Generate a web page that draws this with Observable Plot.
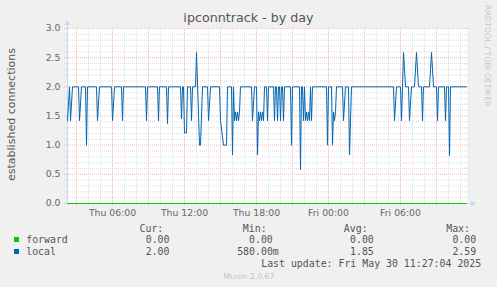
<!DOCTYPE html>
<html><head><meta charset="utf-8">
<script src="https://cdn.jsdelivr.net/npm/d3@7"></script>
<script src="https://cdn.jsdelivr.net/npm/@observablehq/plot@0.6"></script>
<style>
html,body{margin:0;padding:0;background:#f0f0f0;}
#chart{position:relative;width:497px;height:287px;overflow:hidden;}
svg{display:block;}
</style></head><body><div id="chart"></div>
<script>
// ---- texts ----
const title = "ipconntrack - by day";
const yLabel = "established connections";
const sideText = "RRDTOOL / TOBI OETIKER";
const footer = "Munin 2.0.67";
const lastUpdate = "Last update: Fri May 30 11:27:04 2025";

// ---- axes ----
const xDomain = ["29 02:15", "30 11:35"];
const xLabelTicks = ["29 06:00", "29 12:00", "29 18:00", "30 00:00", "30 06:00"];
const yTicks = [0, 0.5, 1, 1.5, 2, 2.5, 3];

// ---- legend ----
const seriesNames = ["forward", "local"];
const seriesColors = ["#00cc00", "#0066b3"];
const statHeaders = ["Cur:", "Min:", "Avg:", "Max:"];
const curVals = ["0.00", "2.00"];
const minVals = ["0.00", "580.00m"];
const avgVals = ["0.00", "1.85"];
const maxVals = ["0.00", "2.59"];

// ---- data ----
const forwardTimes = ["29 02:15", "30 11:30"];
const forwardValues = [0, 0];

const localTimes = [
"29 02:15","29 02:25","29 02:30","29 02:40","29 03:10","29 03:15","29 03:25","29 03:45","29 03:50","29 03:55",
"29 04:40","29 04:45","29 04:55","29 05:55","29 06:00","29 06:10","29 06:45","29 06:50","29 06:55","29 08:45",
"29 08:50","29 08:55","29 09:45","29 09:50","29 09:55","29 10:30","29 10:35","29 10:40","29 11:40","29 11:45",
"29 11:50","29 11:55","29 12:00","29 12:10","29 12:15","29 12:30","29 12:35","29 12:40","29 12:55","29 13:00",
"29 13:15","29 13:20","29 13:30","29 13:55","29 14:00","29 14:10","29 14:55","29 15:00","29 15:15","29 15:30",
"29 15:35","29 15:55","29 16:00","29 16:05","29 16:10","29 16:15","29 16:20","29 16:25","29 16:30","29 16:35",
"29 16:40","29 17:35","29 17:40","29 17:50","29 18:00","29 18:05","29 18:10","29 18:15","29 18:20","29 18:25",
"29 18:30","29 18:35","29 18:40","29 18:50","29 18:55","29 19:00","29 19:25","29 19:30","29 19:35","29 19:40",
"29 19:45","29 19:50","29 19:55","29 20:00","29 20:05","29 20:10","29 20:15","29 20:20","29 20:50","29 20:55",
"29 21:00","29 21:35","29 21:40","29 21:45","29 21:50","29 21:55","29 22:00","29 22:05","29 22:10","29 22:15",
"29 22:20","29 22:25","29 22:30","29 22:35","29 22:40","29 23:50","29 23:55","30 00:00","30 00:15","30 00:20",
"30 00:25","30 00:30","30 00:35","30 00:40","30 01:10","30 01:15","30 01:25","30 01:40","30 01:45","30 01:55",
"30 05:25","30 05:30","30 05:40","30 06:00","30 06:05","30 06:15","30 06:25","30 06:40","30 06:45","30 06:55",
"30 07:10","30 07:20","30 07:30","30 07:45","30 07:50","30 07:55","30 08:25","30 08:35","30 08:45","30 09:00",
"30 09:05","30 09:10","30 09:40","30 09:45","30 09:50","30 10:00","30 10:05","30 10:10","30 11:30"
];
const localValues = [
1.42,2.0,1.42,2.0,2.0,1.42,2.0,2.0,1.0,2.0,
2.0,1.42,2.0,2.0,1.42,2.0,2.0,1.42,2.0,2.0,
1.42,2.0,2.0,1.42,2.0,2.0,1.37,2.0,2.0,1.45,
2.0,2.0,1.21,1.21,2.0,2.0,1.42,2.0,2.0,2.59,
1.0,1.0,2.0,2.0,1.42,2.0,2.0,1.42,1.0,1.0,
2.0,2.0,0.83,2.0,1.42,1.57,1.42,1.57,1.42,1.57,
2.0,2.0,1.42,2.0,2.0,0.83,1.57,1.42,1.57,1.42,
1.57,1.42,2.0,2.0,1.42,2.0,2.0,1.42,2.0,2.0,
1.42,2.0,2.0,1.42,2.0,2.0,1.42,2.0,2.0,1.0,
2.0,2.0,0.58,2.0,2.0,1.42,2.0,1.42,1.57,1.42,
1.57,1.42,2.0,1.42,2.0,2.0,1.0,2.0,2.0,1.0,
1.57,1.42,1.57,2.0,2.0,1.42,2.0,2.0,0.83,2.0,
2.0,1.42,2.0,2.0,1.42,2.59,2.0,2.0,1.42,2.0,
2.0,2.59,2.0,2.0,1.42,2.0,2.0,2.59,2.0,2.0,
1.42,2.0,2.0,1.42,2.0,2.0,0.82,2.0,2.0
];

// ---- build ----
const parse = s => d3.timeParse("%Y-%m-%d %H:%M")("2025-05-" + s);
const xDom = xDomain.map(parse);
const localData = localTimes.map((t, i) => ({t: parse(t), v: localValues[i]}));
const forwardData = forwardTimes.map((t, i) => ({t: parse(t), v: forwardValues[i]}));
const xLabelDates = xLabelTicks.map(parse);
const hourTicks = d3.timeHour.range(xDom[0], xDom[1]);
const majorX = hourTicks.filter(d => d.getHours() % 3 === 0);
const minorX = hourTicks.filter(d => d.getHours() % 3 !== 0);
const minorY = d3.range(1, 30).map(i => i / 10).filter(v => Math.abs(v * 2 - Math.round(v * 2)) > 1e-9);

const gridGray = "#dedede", gridRed = "#f6b4b4", axisCol = "#cfd6f8";

const plot = Plot.plot({
  width: 497, height: 287,
  marginLeft: 67, marginRight: 30, marginTop: 28, marginBottom: 84,
  style: {background: "transparent", color: "#666", fontFamily: "DejaVu Sans", fontSize: "9.3px"},
  x: {type: "time", domain: xDom},
  y: {domain: [0, 3]},
  marks: [
    Plot.frame({fill: "#ffffff", stroke: "none"}),
    Plot.ruleX(minorX, {stroke: gridGray, strokeDasharray: "1,1", insetBottom: -3}),
    Plot.ruleY(minorY, {stroke: gridGray, strokeDasharray: "1,1", insetLeft: -3, insetRight: -3}),
    Plot.ruleX(majorX, {stroke: gridRed, strokeDasharray: "1,1", insetBottom: -3}),
    Plot.ruleY(yTicks.slice(1), {stroke: gridRed, strokeDasharray: "1,1", insetLeft: -3, insetRight: -3}),
    Plot.ruleX([xDom[0]], {stroke: axisCol, insetTop: -4}),
    Plot.ruleY([0], {stroke: axisCol, insetLeft: -3, insetRight: -5}),
    Plot.lineY(forwardData, {x: "t", y: "v", stroke: seriesColors[0], strokeWidth: 1}),
    Plot.lineY(localData, {x: "t", y: "v", stroke: seriesColors[1], strokeWidth: 1, strokeLinejoin: "miter"}),
    Plot.axisX(xLabelDates, {tickSize: 0, tickPadding: 6, tickFormat: d3.timeFormat("%a %H:%M"), label: null}),
    Plot.axisY(yTicks, {tickSize: 0, tickPadding: 7, tickFormat: d3.format(".1f"), label: null})
  ]
});

const svg = d3.select(plot);
const xs = plot.scale("x"), ys = plot.scale("y");
const x0 = Math.round(xs.apply(xDom[0])) + 0.5;
const y0 = Math.round(ys.apply(0)) + 0.5;
const yTop = Math.round(ys.apply(3));
const xEnd = Math.round(xs.apply(xDom[1]));
// arrows
svg.append("path").attr("d", `M${x0 - 3},${yTop - 3} L${x0 + 3},${yTop - 3} L${x0},${yTop - 8} Z`).attr("fill", axisCol);
svg.append("path").attr("d", `M${xEnd + 4},${y0 - 3} L${xEnd + 4},${y0 + 3} L${xEnd + 9},${y0} Z`).attr("fill", axisCol);

// title
svg.append("text").attr("x", 248.5).attr("y", 22.3).attr("text-anchor", "middle")
  .attr("font-family", "DejaVu Sans").attr("font-size", 12.7).attr("fill", "#555").text(title);
// y label
svg.append("text").attr("transform", "translate(14.5,114.5) rotate(-90)").attr("text-anchor", "middle")
  .attr("font-family", "DejaVu Sans").attr("font-size", 11).attr("fill", "#555").text(yLabel);
// side watermark
svg.append("text").attr("transform", "translate(484.5,5) rotate(90)").attr("text-anchor", "start")
  .attr("font-family", "DejaVu Sans").attr("font-size", 7.9).attr("fill", "#c8c8c8").text(sideText);

// legend
const mono = "DejaVu Sans Mono", fs = 9.9, lc = "#555";
const mtext = (x, y, s, anchor = "start") => svg.append("text").attr("x", x).attr("y", y).attr("font-family", mono)
  .attr("font-size", fs).attr("fill", lc).attr("text-anchor", anchor).style("white-space", "pre").text(s);
const hdrX = [139.5, 242.8, 343.8, 446.2];
const rowY = [243, 255];
statHeaders.forEach((h, i) => mtext(hdrX[i], 231.5, h));
const cols = [curVals, minVals, avgVals, maxVals];
const colEnd = [169.5, 272.8, 373.8, 476.2];
seriesNames.forEach((n, r) => {
  svg.append("rect").attr("x", 14).attr("y", rowY[r] - 6).attr("width", 5).attr("height", 5).attr("fill", seriesColors[r]);
  mtext(26.2, rowY[r], n);
  cols.forEach((c, i) => {
    const s = c[r];
    const extra = s.endsWith("m") ? 1 : 0;
    mtext(colEnd[i] + extra * 6.0, rowY[r], s, "end");
  });
});
mtext(261.2, 266.7, lastUpdate);
svg.append("text").attr("x", 249).attr("y", 278.5).attr("text-anchor", "middle")
  .attr("font-family", "DejaVu Sans").attr("font-size", 7.8).attr("fill", "#c4c4c4").text(footer);

document.getElementById("chart").appendChild(plot);
</script>
</body></html>
